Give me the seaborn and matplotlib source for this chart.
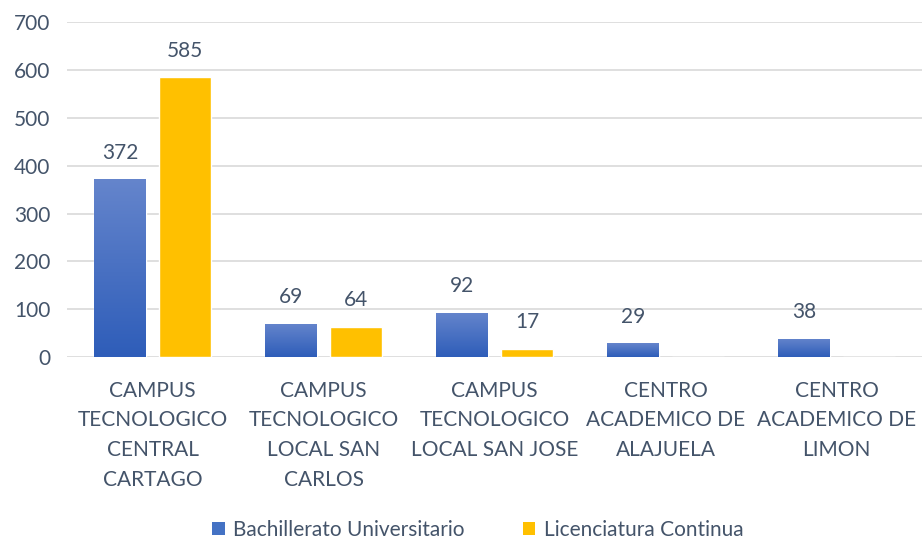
import numpy as np
import pandas as pd
import matplotlib
matplotlib.use("Agg")
import matplotlib.pyplot as plt
from matplotlib.colors import LinearSegmentedColormap
from matplotlib.patches import Patch
import seaborn as sns

categories = [
    "CAMPUS\nTECNOLOGICO\nCENTRAL\nCARTAGO",
    "CAMPUS\nTECNOLOGICO\nLOCAL SAN\nCARLOS",
    "CAMPUS\nTECNOLOGICO\nLOCAL SAN JOSE",
    "CENTRO\nACADEMICO DE\nALAJUELA",
    "CENTRO\nACADEMICO DE\nLIMON",
]
bachillerato = [372, 69, 92, 29, 38]
licenciatura = [585, 64, 17, 0, 0]
series_names = ["Bachillerato Universitario", "Licenciatura Continua"]

df = pd.DataFrame({
    "campus": categories * 2,
    "value": bachillerato + licenciatura,
    "serie": [series_names[0]] * 5 + [series_names[1]] * 5,
})

sns.set_style("white")
plt.rcParams["font.family"] = ["Lato", "DejaVu Sans"]
text_color = "#44546A"
fs = 15

fig = plt.figure(figsize=(9.22, 5.42), dpi=100)
ax = fig.add_axes([0.073, 0.341, 0.927, 0.618])

palette = {series_names[0]: "#4472C4", series_names[1]: "#FFC000"}
sns.barplot(data=df, x="campus", y="value", hue="serie", palette=palette,
            width=0.76, gap=0.2, ax=ax, legend=False, saturation=1)

ax.set_ylim(0, 700)
ax.set_yticks(range(0, 701, 100))
ax.yaxis.grid(True, color="#D9D9D9", linewidth=1.2)
ax.set_axisbelow(True)
for s in ax.spines.values():
    s.set_visible(False)
ax.tick_params(axis="both", length=0, labelsize=fs, colors=text_color)
ax.tick_params(axis="y", pad=12)
ax.tick_params(axis="x", pad=17)
for lbl in ax.get_xticklabels():
    lbl.set_linespacing(1.6)
ax.set_xlabel("")
ax.set_ylabel("")

# gradient on blue bars
cmap = LinearSegmentedColormap.from_list("bl", ["#2E5DB9", "#6585CC"])
grad = np.linspace(0, 1, 256).reshape(-1, 1)
xlim = ax.get_xlim()
blue_bars = ax.containers[0]
for p in blue_bars:
    x0 = p.get_x()
    w = p.get_width()
    h = p.get_height()
    if h <= 0:
        continue
    im = ax.imshow(grad, cmap=cmap, extent=(x0, x0 + w, 0, h), origin="lower",
                   aspect="auto", zorder=p.get_zorder())
    im.set_clip_path(p)
    p.set_facecolor("none")
ax.set_xlim(xlim)
ax.set_ylim(0, 700)

for cont in ax.containers:
    labels = [f"{int(v)}" if v > 0 else "" for v in cont.datavalues]
    ax.bar_label(cont, labels=labels, padding=12, fontsize=fs, color=text_color)

handles = [Patch(facecolor="#4472C4", edgecolor="none"),
           Patch(facecolor="#FFC000", edgecolor="none")]
fig.legend(handles, series_names, loc="center", bbox_to_anchor=(0.518, 0.022),
           ncol=2, frameon=False, fontsize=fs, labelcolor=text_color,
           handlelength=0.6, handleheight=0.6, handletextpad=0.4, columnspacing=2.8)

fig.savefig("out.png", dpi=100)
